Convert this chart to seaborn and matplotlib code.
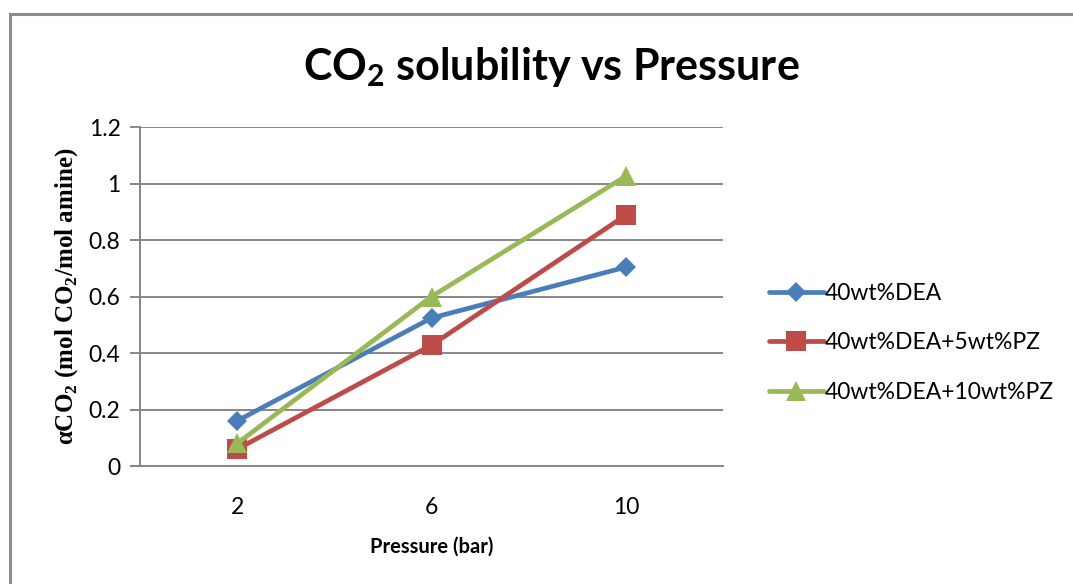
import matplotlib
matplotlib.use("Agg")
import matplotlib.pyplot as plt
from matplotlib.patches import Rectangle
import pandas as pd
import seaborn as sns

# CO2 loading at each pressure for the three solvent blends
pressures = ["2", "6", "10"]
dea_40 = [0.16, 0.524, 0.704]
dea_40_pz_5 = [0.06, 0.428, 0.888]
dea_40_pz_10 = [0.08, 0.60, 1.026]
series_names = ["40wt%DEA", "40wt%DEA+5wt%PZ", "40wt%DEA+10wt%PZ"]
y_ticks = [0, 0.2, 0.4, 0.6, 0.8, 1, 1.2]
y_tick_labels = ["0", "0.2", "0.4", "0.6", "0.8", "1", "1.2"]

df = pd.DataFrame({
    "Pressure": pressures * 3,
    "alpha": dea_40 + dea_40_pz_5 + dea_40_pz_10,
    "Solvent": [series_names[0]] * 3 + [series_names[1]] * 3 + [series_names[2]] * 3,
})

sns.set_theme(style="white")
plt.rcParams["font.family"] = ["Lato", "DejaVu Sans"]
plt.rcParams["text.color"] = "black"
plt.rcParams["axes.labelcolor"] = "black"
plt.rcParams["mathtext.fontset"] = "custom"
plt.rcParams["mathtext.rm"] = "Liberation Serif:bold"
plt.rcParams["mathtext.sf"] = "Lato:bold"

palette = {series_names[0]: "#4A7EBB", series_names[1]: "#BE4B48", series_names[2]: "#98B954"}
markers = {series_names[0]: "D", series_names[1]: "s", series_names[2]: "^"}
sizes = {series_names[0]: 10.5, series_names[1]: 14, series_names[2]: 14.5}

fig = plt.figure(figsize=(10.73, 5.84), dpi=100)
ax = fig.add_axes([0.1305, 0.202, 0.5433, 0.5805])

# outer chart frame
fig.patches.append(Rectangle((10 / 1073, -0.1), 1.2, 1 - 14 / 584 + 0.1,
                             transform=fig.transFigure, fill=False,
                             edgecolor="#8C8C8C", linewidth=2.2, zorder=0))

for name in series_names:
    sub = df[df["Solvent"] == name]
    sns.lineplot(data=sub, x="Pressure", y="alpha", ax=ax, color=palette[name],
                 marker=markers[name], markersize=sizes[name], markeredgewidth=0,
                 linewidth=3.4, label=name, sort=False, zorder=3)

ax.set_xlim(-0.5, 2.5)
ax.set_ylim(0, 1.2)
ax.set_yticks(y_ticks)
ax.set_yticklabels(y_tick_labels)
ax.set_xticks([0, 1, 2])
ax.set_xticklabels(pressures)
ax.set_xticks([-0.5, 0.5, 1.5, 2.5], minor=True)

ax.yaxis.grid(True, color="#868686", linewidth=1.4)
ax.set_axisbelow(True)
for side in ["top", "right"]:
    ax.spines[side].set_visible(False)
for side in ["left", "bottom"]:
    ax.spines[side].set_color("#868686")
    ax.spines[side].set_linewidth(1.4)

ax.tick_params(axis="x", which="major", length=0, pad=22, labelsize=16.5, labelcolor="black")
ax.tick_params(axis="x", which="minor", length=7, width=1.4, color="#868686", direction="out")
ax.tick_params(axis="y", which="major", length=7, width=1.4, color="#868686",
               direction="out", left=True, pad=7, labelsize=16.5, labelcolor="black")

ax.set_xlabel("Pressure (bar)", fontsize=14.5, fontweight="bold", labelpad=14)
ax.set_ylabel(r"αCO$_{2}$ (mol CO$_{2}$/mol amine)", fontsize=18, fontweight="bold",
              family=["Liberation Serif"], labelpad=6)

fig.text(0.5135, 0.885, r"CO$_{\mathsf{2}}$ solubility vs Pressure", ha="center", va="center",
         fontsize=31, fontweight="bold")

leg = ax.legend(loc="center left", bbox_to_anchor=(748 / 1073, 1 - 343 / 584),
                bbox_transform=fig.transFigure, frameon=False, fontsize=16.5,
                handlelength=2.4, handletextpad=0.05, labelspacing=1.25)
for line in leg.get_lines():
    line.set_linewidth(3.4)

fig.savefig("out.png", dpi=100)
